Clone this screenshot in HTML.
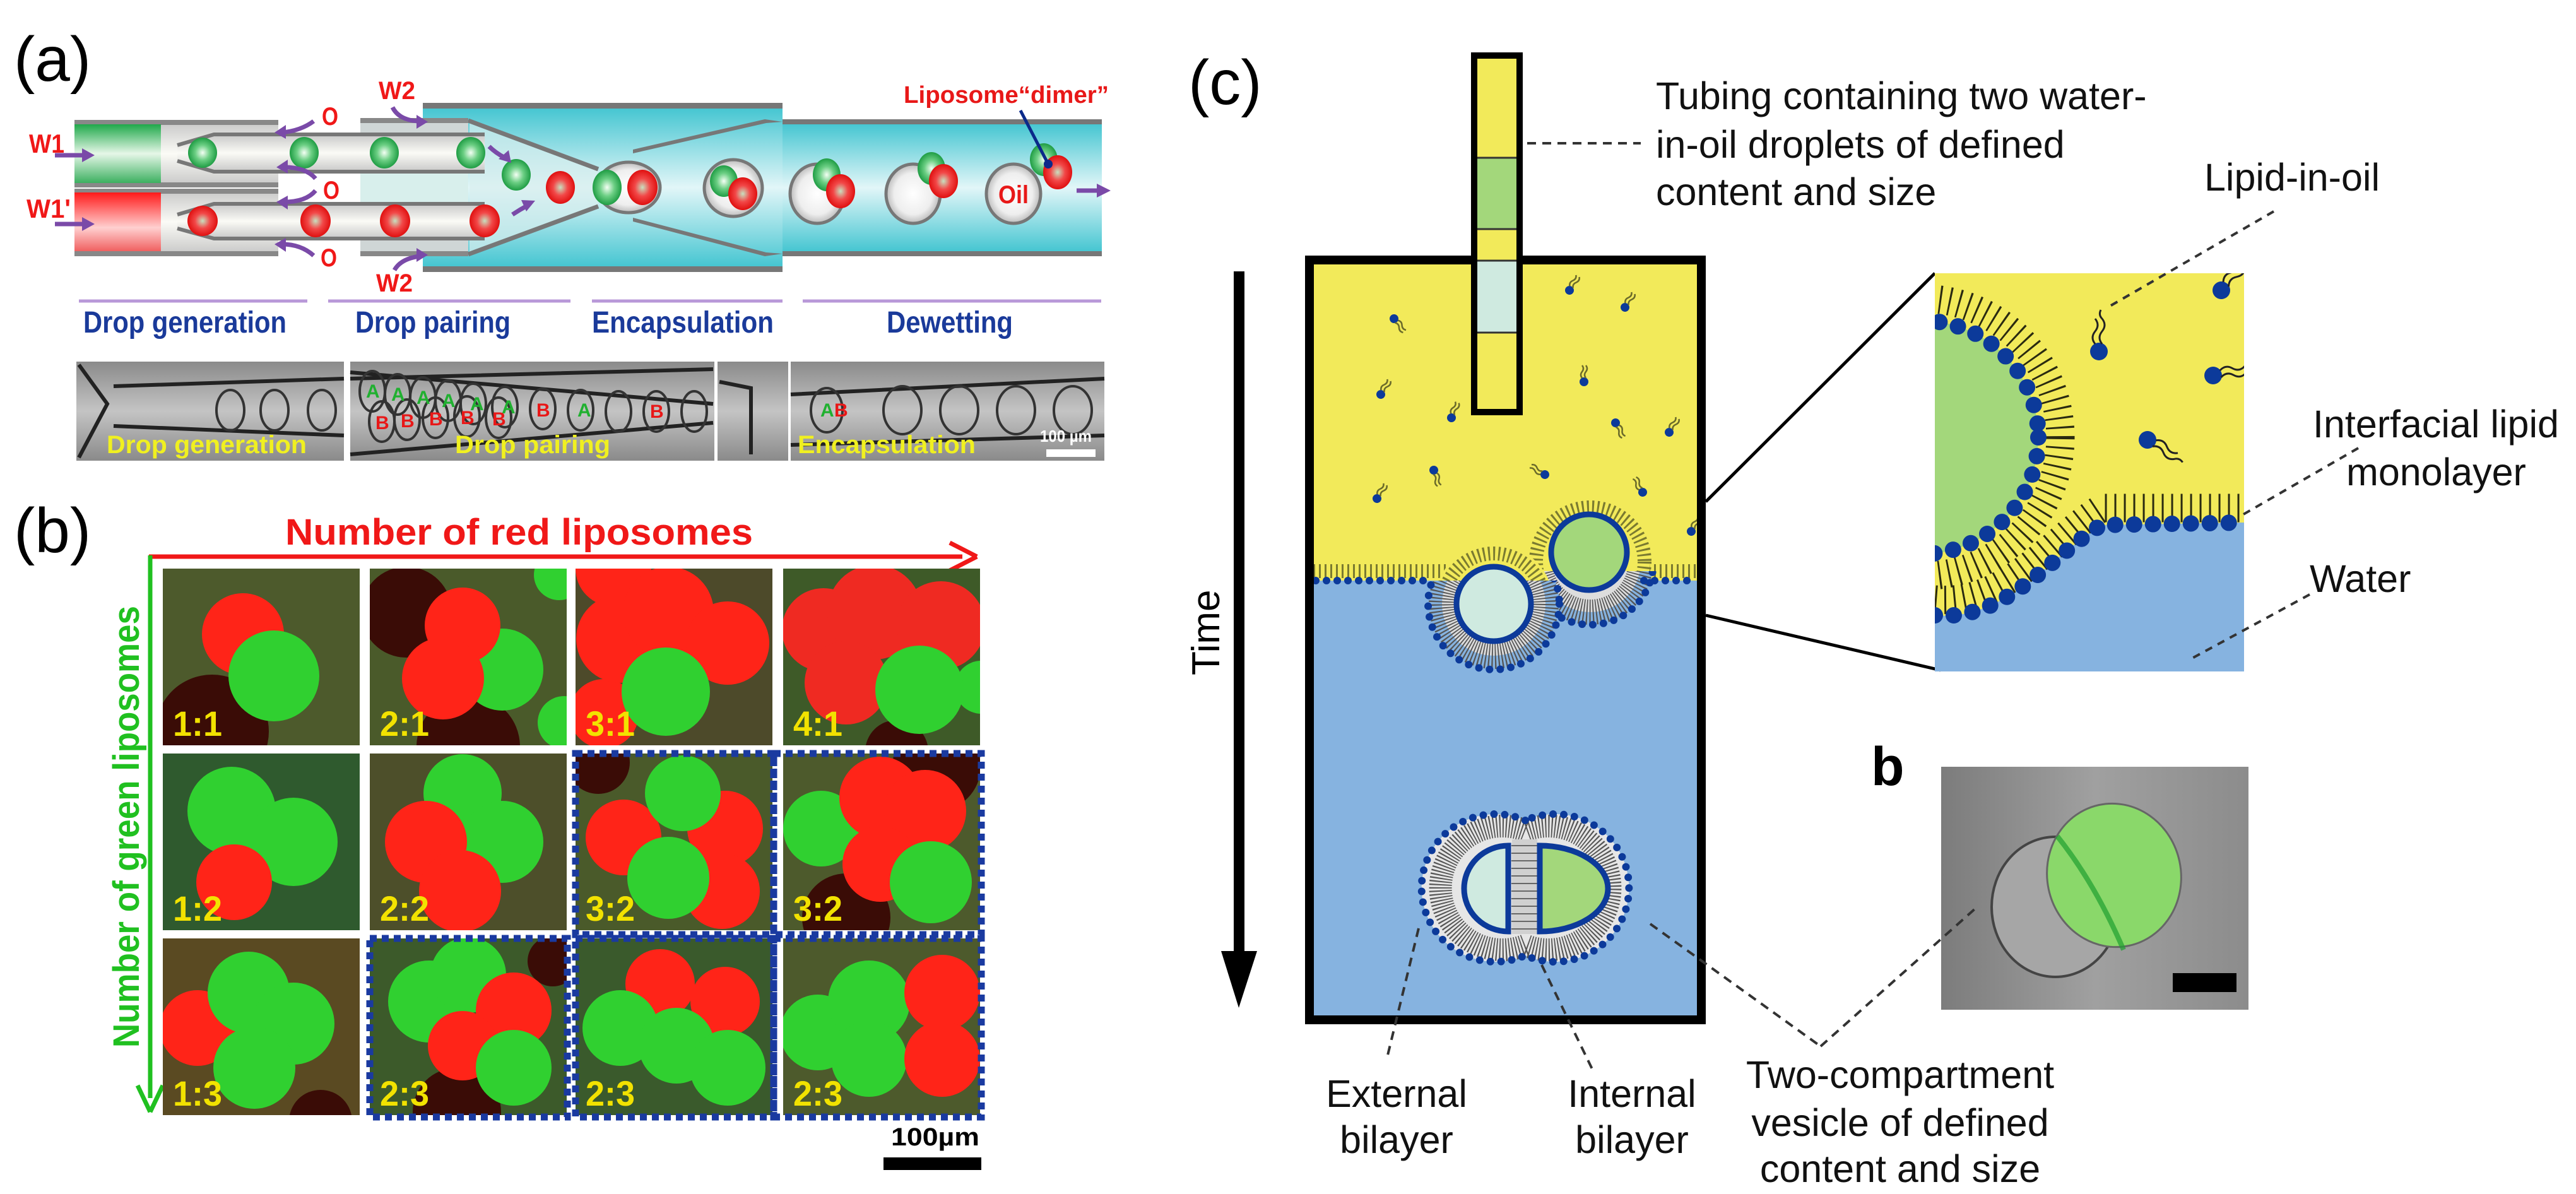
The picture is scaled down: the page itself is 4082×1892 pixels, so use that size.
<!DOCTYPE html>
<html><head><meta charset="utf-8"><style>
html,body{margin:0;padding:0;background:#fff}
svg{display:block}
text{font-family:"Liberation Sans",sans-serif}
</style></head><body>
<svg width="4082" height="1892" viewBox="0 0 4082 1892" xmlns="http://www.w3.org/2000/svg">
<defs>
<linearGradient id="gtube" x1="0" y1="0" x2="0" y2="1"><stop offset="0" stop-color="#c8c8c8"/><stop offset=".5" stop-color="#fbfbf6"/><stop offset="1" stop-color="#c8c8c8"/></linearGradient>
<linearGradient id="ggreen" x1="0" y1="0" x2="0" y2="1"><stop offset="0" stop-color="#1fa84a"/><stop offset=".5" stop-color="#e6f7e8"/><stop offset="1" stop-color="#3cb060"/></linearGradient>
<linearGradient id="gred" x1="0" y1="0" x2="0" y2="1"><stop offset="0" stop-color="#ff1a1a"/><stop offset=".6" stop-color="#ffd0d0"/><stop offset="1" stop-color="#f06060"/></linearGradient>
<linearGradient id="gcyan" x1="0" y1="0" x2="0" y2="1"><stop offset="0" stop-color="#40c4d0"/><stop offset=".5" stop-color="#e2f6f8"/><stop offset="1" stop-color="#40c4d0"/></linearGradient>
<radialGradient id="dg"><stop offset="0" stop-color="#f4fff4"/><stop offset=".5" stop-color="#6ccf84"/><stop offset="1" stop-color="#1f9d44"/></radialGradient>
<radialGradient id="dr"><stop offset="0" stop-color="#c8e0c0"/><stop offset=".5" stop-color="#f24848"/><stop offset="1" stop-color="#e01010"/></radialGradient>
<radialGradient id="dw"><stop offset="0" stop-color="#ffffff"/><stop offset=".7" stop-color="#eeeeee"/><stop offset="1" stop-color="#bbbbbb"/></radialGradient>
<linearGradient id="gstrip" x1="0" y1="0" x2="0" y2="1"><stop offset="0" stop-color="#8a8a8a"/><stop offset=".5" stop-color="#c4c4c4"/><stop offset="1" stop-color="#8a8a8a"/></linearGradient>
<linearGradient id="gphoto" x1="0" y1="0" x2="1" y2="0"><stop offset="0" stop-color="#7c7c7c"/><stop offset=".5" stop-color="#a0a0a0"/><stop offset="1" stop-color="#8c8c8c"/></linearGradient>
<clipPath id="cell"><rect x="0" y="0" width="312" height="280"/></clipPath>
<clipPath id="inset"><rect x="3066" y="433" width="490" height="631"/></clipPath>
<clipPath id="below1"><rect x="2080" y="920" width="620" height="700"/></clipPath>
<clipPath id="below2"><rect x="2080" y="905" width="620" height="700"/></clipPath>
<g id="lip"><circle cx="0" cy="0" r="7" fill="#0c3a9a"/><path d="M-3,6 q4,5 0,10 q-4,5 0,10 M3,6 q4,5 0,10 q-4,5 0,10" stroke="#6b6b2a" stroke-width="2.5" fill="none"/></g>
<g id="lipB"><circle cx="0" cy="0" r="14" fill="#0c3a9a"/><path d="M-5,12 q8,10 0,20 q-8,10 0,20 q6,6 2,14 M6,12 q8,10 0,20 q-8,10 0,20" stroke="#222" stroke-width="3" fill="none"/></g>
</defs>

<!-- ================= PANEL (a) ================= -->
<text x="22" y="128" font-size="100">(a)</text>

<!-- cyan outer -->
<rect x="670" y="167" width="570" height="260" fill="url(#gcyan)"/>
<rect x="670" y="163" width="570" height="9" fill="#777"/>
<rect x="670" y="422" width="570" height="9" fill="#777"/>
<rect x="1240" y="193" width="506" height="209" fill="url(#gcyan)"/>
<rect x="1240" y="189" width="506" height="8" fill="#777"/>
<rect x="1240" y="398" width="506" height="8" fill="#777"/>
<path d="M1240,193 L1214,195 L1003,243 L1003,237 L1212,189 Z" fill="#777"/>
<path d="M1240,402 L1214,400 L1003,345 L1003,351 L1212,406 Z" fill="#777"/>
<path d="M744,192 L948,270 L948,325 L744,402 Z" fill="#d8eeee" opacity=".7"/>
<path d="M742,191 L948,268" stroke="#777" stroke-width="7"/>
<path d="M742,403 L948,327" stroke="#777" stroke-width="7"/>
<!-- gray outer tubes -->
<rect x="118" y="194" width="323" height="99" fill="url(#gtube)"/>
<rect x="118" y="302" width="323" height="100" fill="url(#gtube)"/>
<rect x="118" y="190" width="323" height="8" fill="#888"/><rect x="118" y="289" width="323" height="8" fill="#888"/>
<rect x="118" y="299" width="323" height="8" fill="#888"/><rect x="118" y="398" width="323" height="8" fill="#888"/>
<rect x="118" y="197" width="137" height="93" fill="url(#ggreen)"/>
<rect x="118" y="305" width="137" height="93" fill="url(#gred)"/>
<!-- middle box -->
<rect x="571" y="191" width="171" height="211" fill="#cfd6d6"/>
<rect x="571" y="270" width="171" height="55" fill="#d8efec"/>
<rect x="571" y="187" width="171" height="8" fill="#888"/><rect x="571" y="398" width="171" height="8" fill="#888"/>
<!-- inner capillaries -->
<path d="M281,230 L339,213 L768,213 L768,272 L339,272 L281,255 Z" fill="url(#gtube)"/>
<path d="M281,340 L339,323 L768,323 L768,378 L339,378 L281,362 Z" fill="url(#gtube)"/>
<path d="M281,230 L339,213 L768,213 M281,255 L339,272 L768,272" stroke="#777" stroke-width="6" fill="none"/>
<path d="M281,340 L339,323 L768,323 M281,362 L339,378 L768,378" stroke="#777" stroke-width="6" fill="none"/>
<!-- droplets -->
<g>
<ellipse cx="321" cy="242" rx="23" ry="24" fill="url(#dg)"/><ellipse cx="482" cy="242" rx="23" ry="25" fill="url(#dg)"/><ellipse cx="609" cy="242" rx="23" ry="25" fill="url(#dg)"/><ellipse cx="746" cy="242" rx="23" ry="25" fill="url(#dg)"/>
<ellipse cx="321" cy="350" rx="24" ry="24" fill="url(#dr)"/><ellipse cx="500" cy="350" rx="24" ry="26" fill="url(#dr)"/><ellipse cx="626" cy="350" rx="24" ry="26" fill="url(#dr)"/><ellipse cx="768" cy="350" rx="24" ry="26" fill="url(#dr)"/>
<ellipse cx="818" cy="277" rx="23" ry="25" fill="url(#dg)"/><ellipse cx="888" cy="297" rx="23" ry="26" fill="url(#dr)"/>
<ellipse cx="996" cy="297" rx="50" ry="40" fill="url(#dw)" stroke="#777" stroke-width="5"/>
<ellipse cx="962" cy="297" rx="23" ry="28" fill="url(#dg)"/><ellipse cx="1018" cy="297" rx="24" ry="28" fill="url(#dr)"/>
<ellipse cx="1162" cy="298" rx="46" ry="45" fill="url(#dw)" stroke="#777" stroke-width="5"/>
<ellipse cx="1147" cy="287" rx="22" ry="25" fill="url(#dg)"/><ellipse cx="1177" cy="307" rx="23" ry="26" fill="url(#dr)"/>
<ellipse cx="1295" cy="307" rx="43" ry="47" fill="url(#dw)" stroke="#777" stroke-width="5"/>
<ellipse cx="1310" cy="277" rx="22" ry="26" fill="url(#dg)"/><ellipse cx="1332" cy="303" rx="23" ry="27" fill="url(#dr)"/>
<ellipse cx="1447" cy="307" rx="43" ry="47" fill="url(#dw)" stroke="#777" stroke-width="5"/>
<ellipse cx="1476" cy="267" rx="22" ry="26" fill="url(#dg)"/><ellipse cx="1495" cy="287" rx="23" ry="27" fill="url(#dr)"/>
<ellipse cx="1606" cy="307" rx="43" ry="47" fill="url(#dw)" stroke="#777" stroke-width="5"/>
<ellipse cx="1654" cy="253" rx="22" ry="26" fill="url(#dg)"/><ellipse cx="1676" cy="273" rx="23" ry="27" fill="url(#dr)"/>
</g>
<text x="1606" y="322" font-size="40" font-weight="bold" fill="#e81818" text-anchor="middle" textLength="48" lengthAdjust="spacingAndGlyphs">Oil</text>
<line x1="1617" y1="175" x2="1661" y2="260" stroke="#0b2a8a" stroke-width="5"/>
<circle cx="1661" cy="260" r="7" fill="#0b2a8a"/>
<text x="1432" y="163" font-size="38" font-weight="bold" fill="#e81818" textLength="325" lengthAdjust="spacingAndGlyphs">Liposome“dimer”</text>
<!-- purple arrows -->
<g stroke="#7a4aa8" stroke-width="7" fill="none">
<line x1="87" y1="246" x2="135" y2="246"/><line x1="87" y1="355" x2="135" y2="355"/>
<path d="M497,192 q-20,15 -50,18"/><path d="M500,283 q-15,-18 -50,-18"/><path d="M500,302 q-15,18 -50,18"/><path d="M497,405 q-20,-18 -50,-18"/>
<path d="M622,170 q10,20 40,22"/><path d="M625,428 q10,-18 40,-22"/>
<path d="M775,232 q10,10 25,18"/><path d="M812,340 q12,-8 25,-15"/>
<line x1="1706" y1="302" x2="1740" y2="302"/>
</g>
<g fill="#7a4aa8">
<path d="M150,246 l-20,-11 v22z"/><path d="M150,355 l-20,-11 v22z"/>
<path d="M435,210 l18,-12 v22z"/><path d="M438,265 l18,-12 v22z"/><path d="M438,320 l18,12 v-22z"/><path d="M435,387 l18,12 v-22z"/>
<path d="M678,193 l-18,-11 v22z"/><path d="M678,404 l-18,-11 v22z"/>
<path d="M810,258 l-4,-20 -16,14z"/><path d="M848,318 l-22,-1 8,18z"/>
<path d="M1760,302 l-22,-11 v22z"/>
</g>
<g font-weight="bold" fill="#f01818">
<text x="46" y="242" font-size="42" textLength="56" lengthAdjust="spacingAndGlyphs">W1</text>
<text x="42" y="345" font-size="42" textLength="70" lengthAdjust="spacingAndGlyphs">W1'</text>
<text x="510" y="198" font-size="40" textLength="26" lengthAdjust="spacingAndGlyphs">O</text>
<text x="512" y="315" font-size="40" textLength="26" lengthAdjust="spacingAndGlyphs">O</text>
<text x="508" y="422" font-size="40" textLength="26" lengthAdjust="spacingAndGlyphs">O</text>
<text x="600" y="157" font-size="40" textLength="58" lengthAdjust="spacingAndGlyphs">W2</text>
<text x="596" y="462" font-size="40" textLength="58" lengthAdjust="spacingAndGlyphs">W2</text>
</g>
<!-- stage labels -->
<g stroke="#b898d8" stroke-width="5">
<line x1="125" y1="477" x2="487" y2="477"/><line x1="520" y1="477" x2="904" y2="477"/><line x1="938" y1="477" x2="1240" y2="477"/><line x1="1272" y1="477" x2="1745" y2="477"/>
</g>
<g font-size="48" font-weight="bold" fill="#1a3a9a">
<text x="132" y="527" textLength="322" lengthAdjust="spacingAndGlyphs">Drop generation</text>
<text x="563" y="527" textLength="246" lengthAdjust="spacingAndGlyphs">Drop pairing</text>
<text x="938" y="527" textLength="288" lengthAdjust="spacingAndGlyphs">Encapsulation</text>
<text x="1405" y="527" textLength="200" lengthAdjust="spacingAndGlyphs">Dewetting</text>
</g>
<!-- micrograph strip -->
<rect x="121" y="573" width="424" height="157" fill="url(#gstrip)"/>
<rect x="555" y="573" width="577" height="157" fill="url(#gstrip)"/>
<rect x="1137" y="573" width="112" height="157" fill="url(#gstrip)"/>
<rect x="1253" y="573" width="497" height="157" fill="url(#gstrip)"/>
<g stroke="#222" stroke-width="6" fill="none">
<path d="M125,578 L170,640 L125,725"/><path d="M180,612 L545,600 M180,675 L545,690"/>
<path d="M555,590 L1130,640 M555,720 L1130,670 M555,600 L1130,585"/>
<path d="M1140,605 L1190,615 L1190,720"/><path d="M1253,625 L1750,600 M1253,705 L1750,690"/>
</g>
<g stroke="#333" stroke-width="4" fill="none">
<ellipse cx="365" cy="650" rx="22" ry="32"/><ellipse cx="435" cy="650" rx="22" ry="32"/><ellipse cx="510" cy="650" rx="22" ry="32"/>
<ellipse cx="590" cy="620" rx="20" ry="32"/><ellipse cx="630" cy="625" rx="20" ry="32"/><ellipse cx="670" cy="630" rx="20" ry="32"/><ellipse cx="710" cy="635" rx="20" ry="32"/><ellipse cx="750" cy="640" rx="20" ry="32"/><ellipse cx="800" cy="645" rx="20" ry="32"/><ellipse cx="860" cy="648" rx="20" ry="32"/><ellipse cx="920" cy="650" rx="20" ry="32"/><ellipse cx="980" cy="652" rx="20" ry="32"/><ellipse cx="1040" cy="652" rx="20" ry="32"/><ellipse cx="1100" cy="652" rx="20" ry="32"/>
<ellipse cx="605" cy="668" rx="20" ry="32"/><ellipse cx="645" cy="665" rx="20" ry="32"/><ellipse cx="690" cy="662" rx="20" ry="32"/><ellipse cx="740" cy="660" rx="20" ry="32"/><ellipse cx="790" cy="662" rx="20" ry="32"/>
<ellipse cx="1310" cy="650" rx="25" ry="35"/><ellipse cx="1430" cy="650" rx="30" ry="38"/><ellipse cx="1520" cy="650" rx="30" ry="38"/><ellipse cx="1610" cy="650" rx="30" ry="38"/><ellipse cx="1700" cy="650" rx="30" ry="38"/>
</g>
<g font-size="30" font-weight="bold" fill="#20b030">
<text x="580" y="630">A</text><text x="620" y="635">A</text><text x="660" y="640">A</text><text x="700" y="645">A</text><text x="745" y="650">A</text><text x="795" y="655">A</text><text x="915" y="660">A</text><text x="1300" y="660">A</text>
</g>
<g font-size="30" font-weight="bold" fill="#e81818">
<text x="595" y="680">B</text><text x="635" y="677">B</text><text x="680" y="674">B</text><text x="730" y="672">B</text><text x="780" y="674">B</text><text x="850" y="660">B</text><text x="1030" y="662">B</text><text x="1322" y="660">B</text>
</g>
<g font-size="40" font-weight="bold" fill="#f0f020">
<text x="169" y="718" textLength="317" lengthAdjust="spacingAndGlyphs">Drop generation</text>
<text x="721" y="718" textLength="246" lengthAdjust="spacingAndGlyphs">Drop pairing</text>
<text x="1264" y="718" textLength="282" lengthAdjust="spacingAndGlyphs">Encapsulation</text>
</g>
<text x="1648" y="700" font-size="26" font-weight="bold" fill="#fff" textLength="82" lengthAdjust="spacingAndGlyphs">100 µm</text>
<rect x="1658" y="712" width="78" height="12" fill="#fff"/>

<!-- ================= PANEL (b) ================= -->
<text x="22" y="875" font-size="100">(b)</text>
<text x="452" y="863" font-size="58" font-weight="bold" fill="#f01818" textLength="741" lengthAdjust="spacingAndGlyphs">Number of red liposomes</text>
<line x1="236" y1="882" x2="1525" y2="882" stroke="#f01818" stroke-width="7"/>
<path d="M1548,882 L1505,860 M1548,882 L1505,904" stroke="#f01818" stroke-width="7" fill="none"/>
<line x1="238" y1="880" x2="238" y2="1740" stroke="#20c020" stroke-width="7"/>
<path d="M238,1762 L218,1720 M238,1762 L258,1720" stroke="#20c020" stroke-width="7" fill="none"/>
<text transform="translate(220,1660) rotate(-90)" font-size="58" font-weight="bold" fill="#20c020" textLength="700" lengthAdjust="spacingAndGlyphs">Number of green liposomes</text>

<g id="grid">
<!-- row1 -->
<g transform="translate(258,901)"><g clip-path="url(#cell)"><rect width="312" height="280" fill="#4d5a2c"/><circle cx="78" cy="258" r="90" fill="#3a0c06"/><circle cx="127" cy="104" r="65" fill="#ff2418"/><circle cx="176" cy="170" r="72" fill="#30d030"/><path d="M100,60 L190,180" stroke="none"/></g><text x="16" y="265" font-size="56" font-weight="bold" fill="#f2e200" textLength="78" lengthAdjust="spacingAndGlyphs">1:1</text></g>
<g transform="translate(586,901)"><g clip-path="url(#cell)"><rect width="313" height="280" fill="#4a5a2a"/><circle cx="58" cy="69" r="72" fill="#3a0c06"/><circle cx="156" cy="282" r="82" fill="#3a0c06"/><circle cx="308" cy="244" r="42" fill="#30d030"/><circle cx="300" cy="10" r="40" fill="#30d030"/><circle cx="210" cy="160" r="65" fill="#30d030"/><circle cx="147" cy="90" r="60" fill="#ff2418"/><circle cx="116" cy="174" r="65" fill="#ff2418"/></g><text x="16" y="265" font-size="56" font-weight="bold" fill="#f2e200" textLength="78" lengthAdjust="spacingAndGlyphs">2:1</text></g>
<g transform="translate(912,901)"><g clip-path="url(#cell)"><rect width="314" height="280" fill="#4d4a2a"/><circle cx="60" cy="0" r="60" fill="#ff2418"/><circle cx="45" cy="230" r="55" fill="#ff2418"/><circle cx="71" cy="111" r="70" fill="#ff2418"/><circle cx="147" cy="69" r="72" fill="#ff2418"/><circle cx="241" cy="118" r="66" fill="#ff2418"/><circle cx="143" cy="195" r="70" fill="#30d030"/></g><text x="16" y="265" font-size="56" font-weight="bold" fill="#f2e200" textLength="78" lengthAdjust="spacingAndGlyphs">3:1</text></g>
<g transform="translate(1241,901)"><g clip-path="url(#cell)"><rect width="314" height="280" fill="#3e5a28"/><circle cx="314" cy="188" r="42" fill="#30d030"/><circle cx="180" cy="290" r="50" fill="#3a0c06"/><circle cx="64" cy="97" r="66" fill="#ef2a22"/><circle cx="145" cy="69" r="75" fill="#ef2a22"/><circle cx="250" cy="90" r="70" fill="#ef2a22"/><circle cx="100" cy="181" r="66" fill="#ef2a22"/><circle cx="216" cy="192" r="70" fill="#30d030"/></g><text x="16" y="265" font-size="56" font-weight="bold" fill="#f2e200" textLength="78" lengthAdjust="spacingAndGlyphs">4:1</text></g>
<!-- row2 -->
<g transform="translate(258,1194)"><g clip-path="url(#cell)"><rect width="312" height="280" fill="#2f5a2e"/><circle cx="109" cy="91" r="70" fill="#30d030"/><circle cx="207" cy="140" r="70" fill="#30d030"/><circle cx="113" cy="204" r="60" fill="#ff2418"/></g><text x="16" y="265" font-size="56" font-weight="bold" fill="#f2e200" textLength="78" lengthAdjust="spacingAndGlyphs">1:2</text></g>
<g transform="translate(586,1194)"><g clip-path="url(#cell)"><rect width="313" height="280" fill="#4d4f2a"/><circle cx="147" cy="63" r="62" fill="#30d030"/><circle cx="210" cy="140" r="65" fill="#30d030"/><circle cx="89" cy="140" r="65" fill="#ff2418"/><circle cx="143" cy="218" r="65" fill="#ff2418"/></g><text x="16" y="265" font-size="56" font-weight="bold" fill="#f2e200" textLength="78" lengthAdjust="spacingAndGlyphs">2:2</text></g>
<g transform="translate(912,1194)"><g clip-path="url(#cell)"><rect width="314" height="280" fill="#4a5a2a"/><circle cx="36" cy="14" r="50" fill="#3a0c06"/><circle cx="76" cy="133" r="60" fill="#ff2418"/><circle cx="237" cy="119" r="60" fill="#ff2418"/><circle cx="232" cy="218" r="60" fill="#ff2418"/><circle cx="170" cy="63" r="60" fill="#30d030"/><circle cx="147" cy="197" r="65" fill="#30d030"/></g><text x="16" y="265" font-size="56" font-weight="bold" fill="#f2e200" textLength="78" lengthAdjust="spacingAndGlyphs">3:2</text></g>
<g transform="translate(1241,1194)"><g clip-path="url(#cell)"><rect width="314" height="280" fill="#4d5a2c"/><circle cx="243" cy="21" r="70" fill="#3a0c06"/><circle cx="100" cy="260" r="70" fill="#3a0c06"/><circle cx="60" cy="119" r="60" fill="#30d030"/><circle cx="154" cy="70" r="65" fill="#ff2418"/><circle cx="225" cy="91" r="65" fill="#ff2418"/><circle cx="154" cy="175" r="60" fill="#ff2418"/><circle cx="234" cy="204" r="65" fill="#30d030"/></g><text x="16" y="265" font-size="56" font-weight="bold" fill="#f2e200" textLength="78" lengthAdjust="spacingAndGlyphs">3:2</text></g>
<!-- row3 -->
<g transform="translate(258,1487)"><g clip-path="url(#cell)"><rect width="312" height="281" fill="#5a4a22"/><circle cx="250" cy="290" r="50" fill="#3a0c06"/><circle cx="55" cy="142" r="60" fill="#ff2418"/><circle cx="136" cy="86" r="65" fill="#30d030"/><circle cx="207" cy="135" r="65" fill="#30d030"/><circle cx="145" cy="205" r="65" fill="#30d030"/></g><text x="16" y="265" font-size="56" font-weight="bold" fill="#f2e200" textLength="78" lengthAdjust="spacingAndGlyphs">1:3</text></g>
<g transform="translate(586,1487)"><g clip-path="url(#cell)"><rect width="313" height="281" fill="#3c5a2a"/><circle cx="138" cy="275" r="70" fill="#3a0c06"/><circle cx="290" cy="36" r="40" fill="#3a0c06"/><circle cx="94" cy="100" r="65" fill="#30d030"/><circle cx="156" cy="58" r="60" fill="#30d030"/><circle cx="228" cy="114" r="60" fill="#ff2418"/><circle cx="147" cy="170" r="55" fill="#ff2418"/><circle cx="228" cy="205" r="60" fill="#30d030"/></g><text x="16" y="265" font-size="56" font-weight="bold" fill="#f2e200" textLength="78" lengthAdjust="spacingAndGlyphs">2:3</text></g>
<g transform="translate(912,1487)"><g clip-path="url(#cell)"><rect width="314" height="281" fill="#3a5a2c"/><circle cx="134" cy="72" r="55" fill="#ff2418"/><circle cx="237" cy="100" r="55" fill="#ff2418"/><circle cx="71" cy="142" r="60" fill="#30d030"/><circle cx="160" cy="170" r="60" fill="#30d030"/><circle cx="241" cy="205" r="60" fill="#30d030"/></g><text x="16" y="265" font-size="56" font-weight="bold" fill="#f2e200" textLength="78" lengthAdjust="spacingAndGlyphs">2:3</text></g>
<g transform="translate(1241,1487)"><g clip-path="url(#cell)"><rect width="314" height="281" fill="#4d5a2c"/><circle cx="55" cy="149" r="60" fill="#30d030"/><circle cx="136" cy="100" r="65" fill="#30d030"/><circle cx="136" cy="191" r="60" fill="#30d030"/><circle cx="252" cy="86" r="60" fill="#ff2418"/><circle cx="252" cy="191" r="60" fill="#ff2418"/></g><text x="16" y="265" font-size="56" font-weight="bold" fill="#f2e200" textLength="78" lengthAdjust="spacingAndGlyphs">2:3</text></g>
</g>
<g fill="none" stroke="#1a3aa0" stroke-width="11" stroke-dasharray="11 8">
<rect x="912" y="1194" width="314" height="287"/><rect x="1226" y="1194" width="329" height="287"/>
<rect x="586" y="1487" width="313" height="283"/><rect x="912" y="1487" width="314" height="283"/><rect x="1226" y="1487" width="329" height="283"/>
</g>
<text x="1412" y="1815" font-size="40" font-weight="bold" textLength="140" lengthAdjust="spacingAndGlyphs">100µm</text>
<rect x="1400" y="1834" width="155" height="20" fill="#000"/>

<!-- ================= PANEL (c) ================= -->
<text x="1883" y="165" font-size="100">(c)</text>
<!-- Time arrow -->
<rect x="1955" y="430" width="17" height="1090" fill="#000"/>
<path d="M1935,1507 L1992,1507 L1963,1597 Z" fill="#000"/>
<text transform="translate(1932,1070) rotate(-90)" font-size="62">Time</text>

<!-- big box -->
<rect x="2075" y="412" width="621" height="508" fill="#f2ea5a"/>
<rect x="2075" y="920" width="621" height="696" fill="#86b3e0"/>
<!-- interface monolayer tails & dots -->
<line x1="2081" y1="905" x2="2690" y2="905" stroke="#7a7a30" stroke-width="22" stroke-dasharray="3 6"/>
<!-- droplet 2 (green) -->
<circle cx="2520" cy="890" r="95" fill="#f2ea5a"/>
<circle cx="2520" cy="890" r="86" fill="none" stroke="#7a7a30" stroke-width="22" stroke-dasharray="3 5"/>
<g clip-path="url(#below2)"><circle cx="2520" cy="890" r="100" fill="#86b3e0"/><circle cx="2520" cy="890" r="80" fill="#ddd" stroke="#555" stroke-width="40" stroke-dasharray="2 3"/><circle cx="2520" cy="890" r="100" fill="none" stroke="#0c3a9a" stroke-width="12" stroke-linecap="round" stroke-dasharray="0 17"/></g>
<!-- droplet 1 -->
<circle cx="2367" cy="957" r="95" fill="#f2ea5a"/>
<circle cx="2367" cy="957" r="80" fill="none" stroke="#7a7a30" stroke-width="22" stroke-dasharray="3 5"/>
<g clip-path="url(#below1)"><circle cx="2367" cy="957" r="104" fill="#86b3e0"/><circle cx="2367" cy="957" r="82" fill="#ddd" stroke="#555" stroke-width="42" stroke-dasharray="2 3"/><circle cx="2367" cy="957" r="104" fill="none" stroke="#0c3a9a" stroke-width="12" stroke-linecap="round" stroke-dasharray="0 17"/></g>
<line x1="2085" y1="920" x2="2262" y2="920" stroke="#0c3a9a" stroke-width="12" stroke-linecap="round" stroke-dasharray="0 17"/>
<line x1="2605" y1="920" x2="2690" y2="920" stroke="#0c3a9a" stroke-width="12" stroke-linecap="round" stroke-dasharray="0 17"/>
<circle cx="2367" cy="957" r="59" fill="#cfeae0" stroke="#0c3a9a" stroke-width="9"/>
<circle cx="2518" cy="875" r="60" fill="#a3d77b" stroke="#0c3a9a" stroke-width="9"/>
<!-- free lipids -->
<use href="#lip" transform="translate(2487,460) rotate(210)"/>
<use href="#lip" transform="translate(2575,487) rotate(210)"/>
<use href="#lip" transform="translate(2209,505) rotate(-40)"/>
<use href="#lip" transform="translate(2188,625) rotate(210)"/>
<use href="#lip" transform="translate(2510,605) rotate(180)"/>
<use href="#lip" transform="translate(2560,670) rotate(-30)"/>
<use href="#lip" transform="translate(2645,685) rotate(210)"/>
<use href="#lip" transform="translate(2272,745) rotate(-20)"/>
<use href="#lip" transform="translate(2448,752) rotate(120)"/>
<use href="#lip" transform="translate(2182,790) rotate(210)"/>
<use href="#lip" transform="translate(2603,780) rotate(150)"/>
<use href="#lip" transform="translate(2680,842) rotate(210)"/>
<use href="#lip" transform="translate(2300,662) rotate(200)"/>
<!-- bottom vesicle -->
<path d="M2417,1300 A117,117 0 1,0 2417,1514 A117,117 0 1,0 2417,1300 Z" fill="#e6e6e6"/>
<path d="M2417,1316 A98,98 0 1,0 2417,1498 A98,98 0 1,0 2417,1316 Z" fill="none" stroke="#555" stroke-width="36" stroke-dasharray="2 3"/>
<rect x="2396" y="1330" width="40" height="150" fill="#d0d0d0"/>
<line x1="2416" y1="1330" x2="2416" y2="1480" stroke="#555" stroke-width="40" stroke-dasharray="2 3" transform="rotate(90 2416 1405)" opacity=".0"/>
<g stroke="#444" stroke-width="1.5"><line x1="2395" y1="1340" x2="2437" y2="1340"/><line x1="2395" y1="1352" x2="2437" y2="1352"/><line x1="2395" y1="1364" x2="2437" y2="1364"/><line x1="2395" y1="1376" x2="2437" y2="1376"/><line x1="2395" y1="1388" x2="2437" y2="1388"/><line x1="2395" y1="1400" x2="2437" y2="1400"/><line x1="2395" y1="1412" x2="2437" y2="1412"/><line x1="2395" y1="1424" x2="2437" y2="1424"/><line x1="2395" y1="1436" x2="2437" y2="1436"/><line x1="2395" y1="1448" x2="2437" y2="1448"/><line x1="2395" y1="1460" x2="2437" y2="1460"/><line x1="2395" y1="1472" x2="2437" y2="1472"/></g>
<path d="M2417,1300 A117,117 0 1,0 2417,1514 A117,117 0 1,0 2417,1300 Z" fill="none" stroke="#0c3a9a" stroke-width="12" stroke-linecap="round" stroke-dasharray="0 17"/>
<path d="M2390,1340 L2390,1476 A70,68 0 0,1 2390,1340 Z" fill="#cfeae0" stroke="#0c3a9a" stroke-width="9" transform="translate(2390,0) scale(1,1) translate(-2390,0)"/>
<path d="M2440,1340 L2440,1476 A108,68 0 0,0 2440,1340 Z" fill="#a3d77b" stroke="#0c3a9a" stroke-width="9"/>
<!-- box border -->
<rect x="2075" y="412" width="621" height="1204" fill="none" stroke="#000" stroke-width="14"/>
<!-- tubing -->
<rect x="2336" y="88" width="72" height="565" fill="#f2ea5a" stroke="#000" stroke-width="10"/>
<rect x="2341" y="250" width="62" height="113" fill="#a3d77b"/>
<rect x="2341" y="413" width="62" height="114" fill="#cfeae0"/>
<g stroke="#333" stroke-width="3"><line x1="2341" y1="250" x2="2403" y2="250"/><line x1="2341" y1="363" x2="2403" y2="363"/><line x1="2341" y1="413" x2="2403" y2="413"/><line x1="2341" y1="527" x2="2403" y2="527"/></g>
<line x1="2420" y1="227" x2="2600" y2="227" stroke="#333" stroke-width="4" stroke-dasharray="14 10"/>
<g font-size="61" fill="#111">
<text x="2624" y="173">Tubing containing two water-</text>
<text x="2624" y="250">in-oil droplets of defined</text>
<text x="2624" y="325">content and size</text>
</g>

<!-- zoom lines -->
<line x1="2703" y1="795" x2="3066" y2="433" stroke="#000" stroke-width="5"/>
<line x1="2703" y1="975" x2="3075" y2="1062" stroke="#000" stroke-width="5"/>

<!-- inset -->
<g clip-path="url(#inset)">
<rect x="3066" y="433" width="490" height="631" fill="#f2ea5a"/>
<path d="M3066,975 C3180,985 3250,880 3330,832 L3556,828 L3556,1064 L3066,1064 Z" fill="#86b3e0"/>
<circle cx="3045" cy="693" r="220" fill="none" stroke="#2a2a10" stroke-width="45" stroke-dasharray="3 12"/>
<path d="M3066,950 C3180,960 3250,855 3330,805 L3556,805" fill="none" stroke="#2a2a10" stroke-width="45" stroke-dasharray="3 12"/>
<circle cx="3045" cy="693" r="185" fill="#a3d77b"/>
<circle cx="3045" cy="693" r="185" fill="none" stroke="#0c3a9a" stroke-width="26" stroke-linecap="round" stroke-dasharray="0 30"/>
<path d="M3066,975 C3180,985 3250,880 3330,832 L3556,828" fill="none" stroke="#0c3a9a" stroke-width="26" stroke-linecap="round" stroke-dasharray="0 30"/>
<use href="#lipB" transform="translate(3326,557) rotate(180)"/>
<use href="#lipB" transform="translate(3520,460) rotate(220)"/>
<use href="#lipB" transform="translate(3507,595) rotate(260)"/>
<use href="#lipB" transform="translate(3403,697) rotate(-60)"/>
</g>
<!-- inset labels -->
<g stroke="#333" stroke-width="4" stroke-dasharray="12 10" fill="none">
<line x1="3603" y1="335" x2="3340" y2="487"/>
<line x1="3737" y1="710" x2="3555" y2="815"/>
<line x1="3660" y1="942" x2="3472" y2="1044"/>
</g>
<g font-size="61" fill="#111">
<text x="3493" y="302">Lipid-in-oil</text>
<text x="3665" y="693">Interfacial lipid</text>
<text x="3718" y="769">monolayer</text>
<text x="3660" y="938">Water</text>
</g>

<!-- photo b -->
<text x="2965" y="1244" font-size="86" font-weight="bold">b</text>
<rect x="3076" y="1215" width="487" height="385" fill="url(#gphoto)"/>
<ellipse cx="3257" cy="1437" rx="101" ry="111" fill="#a6a6a6" stroke="#444" stroke-width="4"/>
<ellipse cx="3350" cy="1387" rx="106" ry="114" fill="#8ad86a" stroke="#666" stroke-width="3" transform="rotate(-12 3350 1387)"/>
<path d="M3260,1325 Q3320,1400 3365,1505" stroke="#20a030" stroke-width="8" fill="none" opacity=".7"/>
<rect x="3443" y="1542" width="101" height="30" fill="#000"/>

<!-- bottom labels -->
<g stroke="#333" stroke-width="4" stroke-dasharray="14 10" fill="none">
<line x1="2248" y1="1471" x2="2198" y2="1676"/>
<line x1="2443" y1="1529" x2="2525" y2="1698"/>
<line x1="2615" y1="1464" x2="2885" y2="1658"/>
<line x1="2885" y1="1658" x2="3132" y2="1438"/>
</g>
<g font-size="61" fill="#111">
<text x="2213" y="1754" text-anchor="middle">External</text>
<text x="2213" y="1827" text-anchor="middle">bilayer</text>
<text x="2586" y="1754" text-anchor="middle">Internal</text>
<text x="2586" y="1827" text-anchor="middle">bilayer</text>
<text x="3011" y="1724" text-anchor="middle">Two-compartment</text>
<text x="3011" y="1800" text-anchor="middle">vesicle of defined</text>
<text x="3011" y="1873" text-anchor="middle">content and size</text>
</g>
</svg>
</body></html>
